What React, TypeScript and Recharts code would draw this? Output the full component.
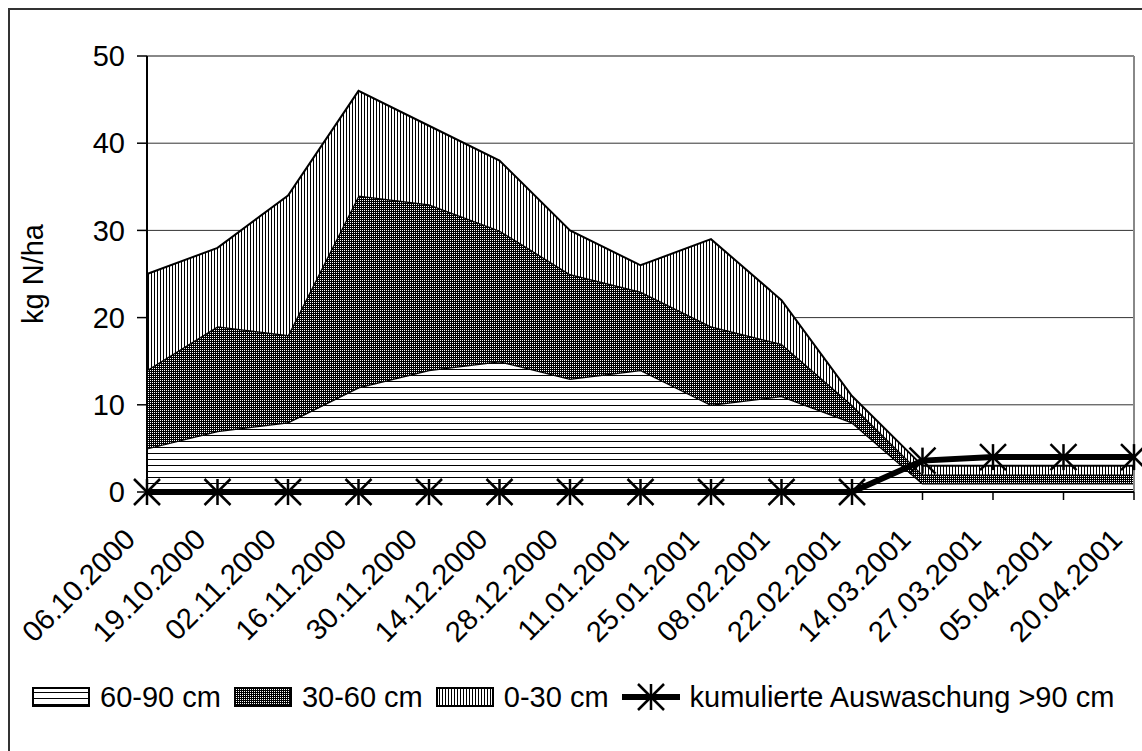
import React from 'react';
import {
  ComposedChart,
  Area,
  Line,
  XAxis,
  YAxis,
  CartesianGrid,
  ReferenceLine,
  Label,
} from 'recharts';

// Sampling dates
const dates = [
  '06.10.2000',
  '19.10.2000',
  '02.11.2000',
  '16.11.2000',
  '30.11.2000',
  '14.12.2000',
  '28.12.2000',
  '11.01.2001',
  '25.01.2001',
  '08.02.2001',
  '22.02.2001',
  '14.03.2001',
  '27.03.2001',
  '05.04.2001',
  '20.04.2001',
];

// Mineral N per soil layer (kg N/ha), stacked bottom to top
const layer60to90 = [5, 7, 8, 12, 14, 15, 13, 14, 10, 11, 8, 1, 1, 1, 1];
const layer30to60 = [9, 12, 10, 22, 19, 15, 12, 9, 9, 6, 2, 1, 1, 1, 1];
const layer0to30 = [11, 9, 16, 12, 9, 8, 5, 3, 10, 5, 1, 1, 1, 1, 1];

// Cumulative leaching below 90 cm (kg N/ha)
const leachingBelow90 = [0, 0, 0, 0, 0, 0, 0, 0, 0, 0, 0, 3.6, 4, 4, 4];

const yTicks = [0, 10, 20, 30, 40, 50];

const seriesLabels = {
  deep: '60-90 cm',
  middle: '30-60 cm',
  top: '0-30 cm',
  leaching: 'kumulierte Auswaschung >90 cm',
};

const data = dates.map((date, i) => ({
  date,
  deep: layer60to90[i],
  middle: layer30to60[i],
  top: layer0to30[i],
  leaching: leachingBelow90[i],
}));

const FONT = 'Arial, "Liberation Sans", sans-serif';
const FONT_SIZE = 29;

function FillPatterns({ prefix }: { prefix: string }) {
  return (
    <defs>
      <pattern id={`${prefix}-hlines`} patternUnits="userSpaceOnUse" width={6} height={6}>
        <rect width={6} height={6} fill="#fff" />
        <rect x={0} y={5} width={6} height={1} fill="#000" />
      </pattern>
      <pattern id={`${prefix}-dots`} patternUnits="userSpaceOnUse" width={2} height={2}>
        <rect width={2} height={2} fill="#000" />
        <rect x={0} y={0} width={1} height={1} fill="#fff" />
      </pattern>
      <pattern id={`${prefix}-vlines`} patternUnits="userSpaceOnUse" width={3} height={3}>
        <rect width={3} height={3} fill="#fff" />
        <rect x={0} y={0} width={1} height={3} fill="#000" />
      </pattern>
    </defs>
  );
}

function Star({ cx, cy, r = 13 }: { cx: number; cy: number; r?: number }) {
  return (
    <g stroke="#000" strokeWidth={2.5} fill="none">
      <line x1={cx - r} y1={cy - r} x2={cx + r} y2={cy + r} />
      <line x1={cx - r} y1={cy + r} x2={cx + r} y2={cy - r} />
      <line x1={cx} y1={cy - r} x2={cx} y2={cy + r} />
    </g>
  );
}

const renderStarDot = (props: any) => {
  const { cx, cy, index } = props;
  if (cx == null || cy == null) return <g key={`star-${index}`} />;
  return (
    <g key={`star-${index}`}>
      <Star cx={cx} cy={cy} />
    </g>
  );
};

const DateTick = (props: any) => {
  const { x, y, payload } = props;
  const ax = x - 10;
  const ay = y + 39;
  return (
    <text
      x={ax}
      y={ay}
      transform={`rotate(-45 ${ax} ${ay})`}
      textAnchor="end"
      fontSize={FONT_SIZE}
      fontFamily={FONT}
      fill="#000"
    >
      {payload.value}
    </text>
  );
};

const YTitle = (props: any) => {
  const vb = props.viewBox || { x: 0, y: 0, height: 0 };
  const tx = vb.x + 23;
  const ty = vb.y + vb.height / 2;
  return (
    <text
      x={tx}
      y={ty}
      transform={`rotate(-90 ${tx} ${ty})`}
      textAnchor="middle"
      dominantBaseline="central"
      fontSize={FONT_SIZE}
      fontFamily={FONT}
      fill="#000"
    >
      kg N/ha
    </text>
  );
};

function KeyBox({ fill }: { fill: string }) {
  return (
    <svg width={58} height={20} style={{ display: 'block', marginRight: 10, flexShrink: 0 }}>
      <FillPatterns prefix="key" />
      <rect x={1} y={1} width={56} height={18} fill={fill} stroke="#000" strokeWidth={2} />
    </svg>
  );
}

function KeyLine() {
  return (
    <svg width={58} height={30} style={{ display: 'block', marginRight: 10, flexShrink: 0 }}>
      <line x1={0} y1={15} x2={58} y2={15} stroke="#000" strokeWidth={6} />
      <Star cx={29} cy={15} />
    </svg>
  );
}

function ChartKey() {
  const textStyle: React.CSSProperties = { marginRight: 13 };
  return (
    <div
      style={{
        position: 'absolute',
        left: 22,
        top: 672,
        height: 30,
        display: 'flex',
        alignItems: 'center',
        fontSize: FONT_SIZE,
        lineHeight: '30px',
        color: '#000',
        whiteSpace: 'nowrap',
        fontFamily: FONT,
      }}
    >
      <KeyBox fill="url(#key-hlines)" />
      <span style={textStyle}>{seriesLabels.deep}</span>
      <KeyBox fill="url(#key-dots)" />
      <span style={textStyle}>{seriesLabels.middle}</span>
      <KeyBox fill="url(#key-vlines)" />
      <span style={textStyle}>{seriesLabels.top}</span>
      <KeyLine />
      <span>{seriesLabels.leaching}</span>
    </div>
  );
}

export default function App() {
  return (
    <div
      style={{
        position: 'fixed',
        left: 8,
        top: 8,
        width: 1134,
        height: 743,
        boxSizing: 'border-box',
        borderTop: '2px solid #333',
        borderLeft: '2px solid #333',
        background: '#fff',
        fontFamily: FONT,
      }}
    >
      <ComposedChart
        width={1132}
        height={741}
        data={data}
        margin={{ top: 46, right: 8, left: 0, bottom: 0 }}
      >
        <FillPatterns prefix="plot" />
        <CartesianGrid vertical={false} stroke="#333" strokeWidth={1} />
        <XAxis
          dataKey="date"
          interval={0}
          height={259}
          tickSize={8}
          tick={<DateTick />}
          axisLine={{ stroke: '#000', strokeWidth: 2 }}
          tickLine={{ stroke: '#000', strokeWidth: 1.5 }}
        />
        <YAxis
          width={137}
          domain={[0, 50]}
          ticks={yTicks}
          interval={0}
          tickSize={10}
          tickMargin={12}
          tick={{ fill: '#000', fontSize: FONT_SIZE, fontFamily: FONT }}
          axisLine={{ stroke: '#000', strokeWidth: 2 }}
          tickLine={{ stroke: '#000', strokeWidth: 1.5 }}
        >
          <Label content={<YTitle />} />
        </YAxis>
        <Area
          type="linear"
          dataKey="deep"
          name={seriesLabels.deep}
          stackId="soil"
          stroke="#000"
          strokeWidth={2.5}
          fill="url(#plot-hlines)"
          fillOpacity={1}
          dot={false}
          activeDot={false}
          isAnimationActive={false}
        />
        <Area
          type="linear"
          dataKey="middle"
          name={seriesLabels.middle}
          stackId="soil"
          stroke="#000"
          strokeWidth={2.5}
          fill="url(#plot-dots)"
          fillOpacity={1}
          dot={false}
          activeDot={false}
          isAnimationActive={false}
        />
        <Area
          type="linear"
          dataKey="top"
          name={seriesLabels.top}
          stackId="soil"
          stroke="#000"
          strokeWidth={2}
          fill="url(#plot-vlines)"
          fillOpacity={1}
          dot={false}
          activeDot={false}
          isAnimationActive={false}
        />
        <ReferenceLine y={50} stroke="#888" strokeWidth={2} />
        <ReferenceLine x={dates[dates.length - 1]} stroke="#888" strokeWidth={2} />
        <Line
          type="linear"
          dataKey="leaching"
          name={seriesLabels.leaching}
          stroke="#000"
          strokeWidth={6}
          dot={renderStarDot}
          activeDot={false}
          isAnimationActive={false}
        />
      </ComposedChart>
      <ChartKey />
    </div>
  );
}
